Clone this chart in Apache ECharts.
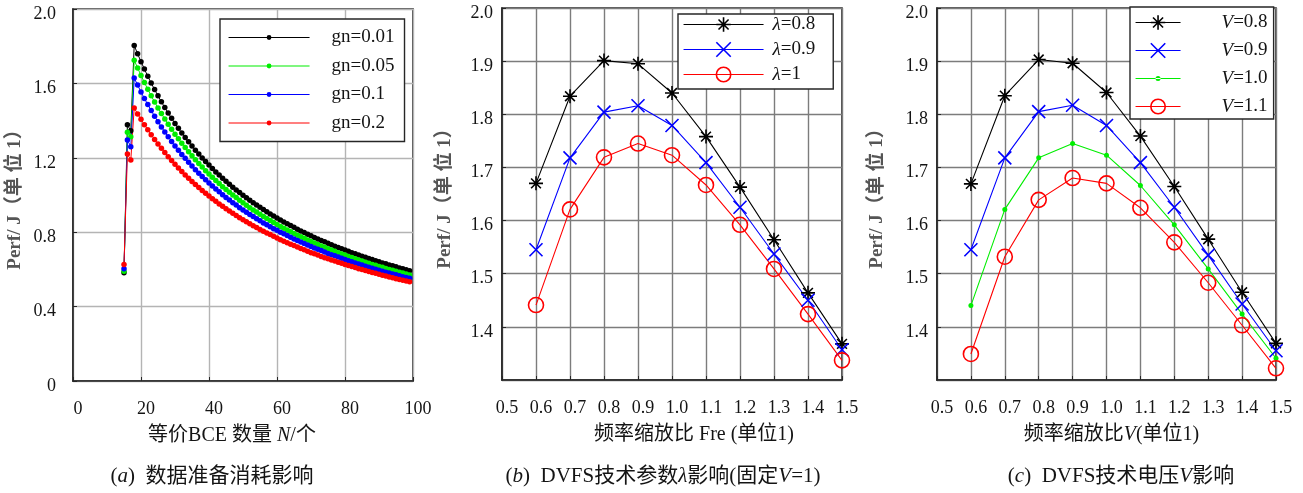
<!DOCTYPE html>
<html><head><meta charset="utf-8">
<script src="https://cdn.jsdelivr.net/npm/echarts@6/dist/echarts.min.js"></script>
<style>html,body{margin:0;padding:0;background:#fff}#c{width:1303px;height:493px}</style>
</head><body><div id="c"></div><script>
// ---------- data: panel (a) ----------
const nA = [15,16,17,18,19,20,21,22,23,24,25,26,27,28,29,30,31,32,33,34,35,36,37,38,39,40,41,42,43,44,45,46,47,48,49,50,51,52,53,54,55,56,57,58,59,60,61,62,63,64,65,66,67,68,69,70,71,72,73,74,75,76,77,78,79,80,81,82,83,84,85,86,87,88,89,90,91,92,93,94,95,96,97,98,99];
const gn001 = [0.582,1.378,1.345,
1.804,1.759,1.717,1.677,1.638,1.602,1.567,1.533,1.501,1.470,
1.441,1.412,1.385,1.359,1.333,1.309,1.286,1.263,1.241,1.220,
1.199,1.180,1.161,1.142,1.124,1.107,1.090,1.074,1.058,1.042,
1.027,1.013,0.999,0.985,0.972,0.959,0.946,0.934,0.922,0.910,
0.898,0.887,0.876,0.866,0.855,0.845,0.836,0.826,0.816,0.807,
0.798,0.789,0.781,0.772,0.764,0.756,0.748,0.740,0.733,0.725,
0.718,0.711,0.704,0.697,0.690,0.684,0.677,0.671,0.665,0.659,
0.653,0.647,0.641,0.635,0.630,0.624,0.619,0.614,0.608,0.603,
0.598,0.593];
const gn005 = [0.590,1.338,1.313,
1.725,1.683,1.643,1.605,1.568,1.533,1.500,1.468,1.438,1.408,
1.380,1.353,1.327,1.302,1.278,1.255,1.232,1.211,1.190,1.170,
1.150,1.131,1.113,1.095,1.078,1.062,1.045,1.030,1.015,1.000,
0.986,0.972,0.958,0.945,0.932,0.920,0.908,0.896,0.885,0.873,
0.863,0.852,0.842,0.831,0.821,0.812,0.802,0.793,0.784,0.775,
0.767,0.758,0.750,0.742,0.734,0.726,0.719,0.711,0.704,0.697,
0.690,0.683,0.677,0.670,0.664,0.657,0.651,0.645,0.639,0.633,
0.627,0.622,0.616,0.611,0.605,0.600,0.595,0.590,0.585,0.580,
0.575,0.570];
const gn01 = [0.603,1.296,1.260,
1.629,1.591,1.554,1.519,1.486,1.454,1.423,1.394,1.366,1.339,
1.313,1.288,1.264,1.240,1.218,1.197,1.176,1.156,1.136,1.117,
1.099,1.082,1.065,1.048,1.032,1.017,1.002,0.987,0.973,0.959,
0.946,0.932,0.920,0.907,0.895,0.884,0.872,0.861,0.850,0.840,
0.829,0.819,0.810,0.800,0.791,0.782,0.773,0.764,0.755,0.747,
0.739,0.731,0.723,0.715,0.708,0.701,0.693,0.686,0.679,0.673,
0.666,0.660,0.653,0.647,0.641,0.635,0.629,0.623,0.617,0.612,
0.606,0.601,0.596,0.590,0.585,0.580,0.575,0.571,0.566,0.561,
0.556,0.552];
const gn02 = [0.627,1.220,1.188,
1.468,1.436,1.407,1.378,1.351,1.324,1.299,1.274,1.251,1.228,
1.206,1.185,1.165,1.145,1.126,1.108,1.090,1.073,1.056,1.040,
1.024,1.009,0.994,0.980,0.966,0.952,0.939,0.926,0.914,0.902,
0.890,0.878,0.867,0.856,0.845,0.835,0.825,0.815,0.805,0.796,
0.787,0.778,0.769,0.760,0.752,0.743,0.735,0.728,0.720,0.712,
0.705,0.698,0.690,0.684,0.677,0.670,0.663,0.657,0.651,0.645,
0.638,0.633,0.627,0.621,0.615,0.610,0.604,0.599,0.594,0.589,
0.584,0.579,0.574,0.569,0.564,0.559,0.555,0.550,0.546,0.542,
0.537,0.533];
// ---------- data: panels (b), (c) ----------
const freq = [0.6,0.7,0.8,0.9,1.0,1.1,1.2,1.3,1.4,1.5];
const lam08 = [1.670,1.834,1.901,1.895,1.840,1.758,1.663,1.564,1.464,1.368];
const lam09 = [1.545,1.718,1.804,1.816,1.779,1.709,1.625,1.537,1.450,1.357];
const lam10 = [1.441,1.621,1.719,1.745,1.723,1.667,1.592,1.509,1.424,1.337];
const v08 = [1.669,1.835,1.903,1.896,1.841,1.759,1.664,1.565,1.465,1.369];
const v09 = [1.545,1.718,1.805,1.817,1.779,1.709,1.625,1.535,1.443,1.355];
const v10 = [1.440,1.621,1.718,1.745,1.723,1.666,1.592,1.509,1.424,1.341];
const v11 = [1.349,1.532,1.639,1.680,1.670,1.624,1.559,1.483,1.403,1.322];
// ---------- tick labels ----------
const xTicksA = ['0','20','40','60','80','100'];
const yTicksA = ['0','0.4','0.8','1.2','1.6','2.0'];
const xTicksBC = ['0.5','0.6','0.7','0.8','0.9','1.0','1.1','1.2','1.3','1.4','1.5'];
const yTicksBC = ['1.3','1.4','1.5','1.6','1.7','1.8','1.9','2.0'];
const namesA = ['gn=0.01','gn=0.05','gn=0.1','gn=0.2'];
const namesB = ['λ=0.8','λ=0.9','λ=1'];
const namesC = ['V=0.8','V=0.9','V=1.0','V=1.1'];

const SERIF = "'Liberation Serif','Times New Roman','Noto Sans CJK SC',serif";
const STAR = 'path://M5,0L5,10M0,5L10,5M1.5,1.5L8.5,8.5M8.5,1.5L1.5,8.5';
const XMARK = 'path://M0,0L10,10M10,0L0,10';
const CIRC = 'path://M10,5A5,5,0,1,1,0,5A5,5,0,1,1,10,5Z';
const DOTLINE = 'path://M0,2h45v1h-45z M20,2.5a2.5,2.5 0 1,0 5,0a2.5,2.5 0 1,0 -5,0z';
const TXT = '#141414';

const pairs = (xs, ys) => ys.map((y, i) => [xs[i], y]);

function dotSeries(name, ys, color, gi) {
  return { type:'line', name, xAxisIndex:gi, yAxisIndex:gi, data:pairs(nA, ys),
    symbol:'circle', symbolSize:5.5, showAllSymbol:true,
    itemStyle:{color, borderWidth:0}, lineStyle:{color, width:1}, animation:false, silent:true };
}
function markSeries(name, xs, ys, color, sym, size, gi) {
  const filled = sym === 'circle';
  return { type:'line', name, xAxisIndex:gi, yAxisIndex:gi, data:pairs(xs, ys),
    symbol: filled ? 'circle' : sym, symbolSize:size, showAllSymbol:true,
    itemStyle: filled ? {color, borderWidth:0} : {color:'rgba(0,0,0,0)', borderColor:color, borderWidth:1.6},
    lineStyle:{color, width:1.1}, animation:false, silent:true };
}

const grids = [
  {left:73, top:9, width:340, height:372},
  {left:502, top:8, width:340, height:372},
  {left:937, top:8, width:339, height:372}
].map(g => Object.assign({show:true, borderColor:'#262626', borderWidth:1.6, backgroundColor:'#fff', containLabel:false}, g));

const lblStyle = {fontFamily:SERIF, fontSize:18, color:TXT};

function xAxis(gi, min, max, interval, fmt, gridColor, name, namePad, rich) {
  return { type:'value', gridIndex:gi, min, max, interval,
    axisLine:{show:true, lineStyle:{color:'#262626', width:1.6}},
    axisTick:{show:true, inside:true, length:4, lineStyle:{color:'#262626'}},
    splitLine:{show:true, lineStyle:{color:gridColor, width:1.4}},
    axisLabel:Object.assign({margin:19, formatter:fmt, padding:[0,0,0,10], showMinLabel:true, showMaxLabel:true}, lblStyle),
    name, nameLocation:'middle', nameGap:45,
    nameTextStyle:{fontFamily:SERIF, fontSize:20, color:TXT, padding:namePad, rich}
  };
}
function yAxis(gi, min, max, interval, fmt, gridColor, margin, nameGap, showMin) {
  return { type:'value', gridIndex:gi, min, max, interval,
    axisLine:{show:true, lineStyle:{color:'#262626', width:1.6}},
    axisTick:{show:true, inside:true, length:4, lineStyle:{color:'#262626'}},
    splitLine:{show:true, lineStyle:{color:gridColor, width:1.4}},
    axisLabel:Object.assign({margin, formatter:fmt, verticalAlign:'top', lineHeight:10, showMinLabel:showMin}, lblStyle),
    name:'Perf/ J（单 位 1）', nameLocation:'middle', nameGap, nameRotate:90,
    nameTextStyle:{fontFamily:SERIF, fontSize:19, fontWeight:'bold', color:'#555'}
  };
}
const richI = {i:{fontFamily:SERIF, fontSize:20, fontStyle:'italic', color:TXT}};

const fmtXA = v => xTicksA[Math.round(v/20)] || '';
const fmtYA = v => yTicksA[Math.round(v/0.4)] || '';
const fmtXB = v => xTicksBC[Math.round((v-0.5)/0.1)] || '';
const fmtYB = v => yTicksBC[Math.round((v-1.3)/0.1)] || '';

const legBase = {orient:'vertical', borderColor:'#262626', borderWidth:1.4, backgroundColor:'#fff',
  selectedMode:false, inactiveColor:'#000'};
const legText = (pad, rich) => ({fontFamily:SERIF, fontSize:19, color:TXT, padding:pad, rich});
const richLeg = {i:{fontFamily:SERIF, fontSize:19, fontStyle:'italic', color:TXT}, n:{fontFamily:SERIF, fontSize:19, color:TXT}};

const colorsA = ['#000000','#00ee00','#0000ff','#ff0000'];
const legItem = (name, color, extra) => Object.assign({name, itemStyle:{color, borderColor:color, borderWidth:0}, lineStyle:{color, width:1.1}}, extra||{});
const legItemMark = (name, color) => ({name, itemStyle:{color:'rgba(0,0,0,0)', borderColor:color, borderWidth:1.6}, lineStyle:{color, width:1.1}});

const option = {
  animation:false,
  backgroundColor:'#fff',
  grid: grids,
  xAxis: [
    xAxis(0, 0, 100, 20, fmtXA, '#b4b4b4', '等价BCE 数量 {i|N}/个', [0,22,0,0], richI),
    xAxis(1, 0.5, 1.5, 0.1, fmtXB, '#7c7c7c', '频率缩放比 Fre (单位1)', [0,0,0,44], richI),
    xAxis(2, 0.5, 1.5, 0.1, fmtXB, '#7c7c7c', '频率缩放比{i|V}(单位1)', [0,0,0,10], richI)
  ],
  yAxis: [
    yAxis(0, 0, 2.0, 0.4, fmtYA, '#b4b4b4', 17, 48, true),
    yAxis(1, 1.3, 2.0, 0.1, fmtYB, '#7c7c7c', 9, 47, false),
    yAxis(2, 1.3, 2.0, 0.1, fmtYB, '#7c7c7c', 9, 50, false)
  ],
  legend: [
    Object.assign({}, legBase, {left:220, top:19, padding:[9,10,9,8], itemWidth:81, itemHeight:6, itemGap:9.5,
      textStyle:legText([0,0,0,17]),
      data: namesA.map((n,i) => legItem(n, colorsA[i]))}),
    Object.assign({}, legBase, {left:678, top:14, padding:[1,18,5,5], itemWidth:80, itemHeight:18, itemGap:6,
      textStyle:legText([0,0,0,4], richLeg),
      formatter: n => '{i|λ}{n|' + n.slice(1) + '}',
      data: [legItemMark(namesB[0], '#000'), legItemMark(namesB[1], '#0000ff'), legItemMark(namesB[2], '#ff0000')]}),
    Object.assign({}, legBase, {left:1130, top:7, padding:[6,6,3,5], itemWidth:45, itemHeight:18, itemGap:9,
      textStyle:legText([0,0,0,36], richLeg),
      formatter: n => '{i|V}{n|' + n.slice(1) + '}',
      data: [legItemMark(namesC[0], '#000'), legItemMark(namesC[1], '#0000ff'),
             legItem(namesC[2], '#00ee00', {icon:DOTLINE}), legItemMark(namesC[3], '#ff0000')]})
  ],
  title: [
    {text:'{n|(}{i|a}{n|)  数据准备消耗影响}', left:212, top:466, textAlign:'center'},
    {text:'{n|(}{i|b}{n|)  DVFS技术参数}{i|λ}{n|影响(固定}{i|V}{n|=1)}', left:663, top:466, textAlign:'center'},
    {text:'{n|(}{i|c}{n|)  DVFS技术电压}{i|V}{n|影响}', left:1121, top:466, textAlign:'center'}
  ].map(t => Object.assign(t, {padding:0, textStyle:{fontFamily:SERIF, fontSize:21, fontWeight:'normal', color:TXT,
      rich:{n:{fontFamily:SERIF, fontSize:21, color:TXT}, i:{fontFamily:SERIF, fontSize:21, fontStyle:'italic', color:TXT}}}})),
  series: [
    dotSeries(namesA[0], gn001, colorsA[0], 0),
    dotSeries(namesA[1], gn005, colorsA[1], 0),
    dotSeries(namesA[2], gn01, colorsA[2], 0),
    dotSeries(namesA[3], gn02, colorsA[3], 0),
    markSeries(namesB[0], freq, lam08, '#000000', STAR, 14, 1),
    markSeries(namesB[1], freq, lam09, '#0000ff', XMARK, 13, 1),
    markSeries(namesB[2], freq, lam10, '#ff0000', CIRC, 15, 1),
    markSeries(namesC[0], freq, v08, '#000000', STAR, 14, 2),
    markSeries(namesC[1], freq, v09, '#0000ff', XMARK, 13, 2),
    markSeries(namesC[2], freq, v10, '#00ee00', 'circle', 5, 2),
    markSeries(namesC[3], freq, v11, '#ff0000', CIRC, 15, 2)
  ]
};
const chart = echarts.init(document.getElementById('c'), null, {renderer:'canvas'});
chart.setOption(option);
</script></body></html>
